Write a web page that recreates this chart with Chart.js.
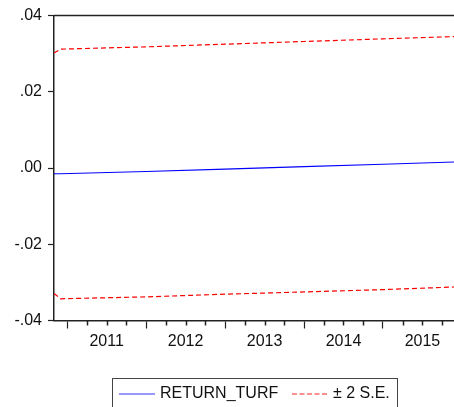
<!DOCTYPE html>
<html>
<head>
<meta charset="utf-8">
<script src="https://cdn.jsdelivr.net/npm/chart.js@4"></script>
<style>
  body { margin: 0; background: #fff; }
  #wrap { position: relative; width: 454px; height: 407px; overflow: hidden; }
  #legend { position: absolute; left: 112px; top: 378px; width: 284px; height: 40px;
    border: 1px solid #444; font: 16px "Liberation Sans", Arial, sans-serif; color: #111; }
  #legend span { position: absolute; top: 5px; }
  #legend svg { position: absolute; top: 14px; }
</style>
</head>
<body>
<div id="wrap">
  <canvas id="myChart1" width="454" height="407"></canvas>
  <div id="legend">
    <svg style="left:6px" width="36" height="2"><line x1="0" y1="1" x2="36" y2="1" stroke="#3333ff" stroke-width="1.2"/></svg>
    <span style="left:47px">RETURN_TURF</span>
    <svg style="left:179px" width="37" height="2"><line x1="0" y1="1" x2="37" y2="1" stroke="#ff2222" stroke-width="1.2" stroke-dasharray="5,2.5"/></svg>
    <span style="left:220px">± 2 S.E.</span>
  </div>
</div>
<script>
// monthly dates as decimal years (Nov 2010 ... Dec 2015)
var dates = [2010.833, 2010.917, 2012.0, 2013.0, 2014.0, 2015.0, 2015.917];
var returnTurf = [-0.0015, -0.0015, -0.0009, -0.0003, 0.0004, 0.0010, 0.0016];
var upperSE = [0.0302, 0.0312, 0.0318, 0.0325, 0.0332, 0.0339, 0.0345];
var lowerSE = [-0.0329, -0.0343, -0.0338, -0.0331, -0.0325, -0.0319, -0.0312];
var yearTicks = [2011, 2012, 2013, 2014, 2015];
var quarterTicks = [2011.25, 2011.5, 2011.75, 2012.25, 2012.5, 2012.75, 2013.25, 2013.5, 2013.75,
  2014.25, 2014.5, 2014.75, 2015.25, 2015.5, 2015.75];
var yTicks = [-0.04, -0.02, 0, 0.02, 0.04];

function pts(vals) {
  return dates.map(function (d, i) { return { x: d, y: vals[i] }; });
}

var frame = {
  id: 'frame',
  afterDraw: function (chart) {
    var ctx = chart.ctx, a = chart.chartArea, xs = chart.scales.x;
    ctx.save();
    ctx.strokeStyle = '#222';
    ctx.lineWidth = 1.5;
    ctx.beginPath();
    ctx.moveTo(a.left, a.top);
    ctx.lineTo(a.right + 2, a.top);
    quarterTicks.forEach(function (q) {
      var x = Math.round(xs.getPixelForValue(q)) + 0.5;
      ctx.moveTo(x, a.bottom);
      ctx.lineTo(x, a.bottom + 5);
    });
    ctx.stroke();
    ctx.restore();
  }
};

var font = { family: '"Liberation Sans", Arial, sans-serif', size: 16 };

new Chart(document.getElementById('myChart1').getContext('2d'), {
  type: 'line',
  data: {
    datasets: [{
      label: 'RETURN_TURF',
      data: pts(returnTurf),
      borderColor: '#0000ff',
      borderWidth: 1.2,
      pointRadius: 0,
      tension: 0
    }, {
      label: '± 2 S.E.',
      data: pts(upperSE),
      borderColor: '#ff0000',
      borderWidth: 1.2,
      borderDash: [5, 3],
      pointRadius: 0,
      tension: 0
    }, {
      label: 'lower',
      data: pts(lowerSE),
      borderColor: '#ff0000',
      borderWidth: 1.2,
      borderDash: [5, 3],
      pointRadius: 0,
      tension: 0
    }]
  },
  options: {
    responsive: false,
    animation: false,
    devicePixelRatio: 1,
    layout: { padding: { top: 15, right: 0, left: 0, bottom: 0 }, autoPadding: false },
    plugins: { legend: { display: false }, tooltip: { enabled: false } },
    scales: {
      x: {
        type: 'linear',
        min: 2010.833,
        max: 2015.9,
        afterBuildTicks: function (scale) {
          scale.ticks = yearTicks.map(function (v) { return { value: v }; })
            .concat(yearTicks.map(function (v) { return { value: v + 0.5 }; }));
        },
        afterFit: function (scale) { scale.height = 86.5; },
        border: { color: '#222', width: 1.5 },
        grid: {
          drawOnChartArea: false,
          tickLength: 8,
          tickWidth: 1.2,
          tickColor: function (c) { return c.tick && c.tick.value % 1 === 0 ? '#222' : 'rgba(0,0,0,0)'; }
        },
        ticks: {
          autoSkip: false,
          maxRotation: 0,
          padding: 3,
          color: '#111',
          font: font,
          callback: function (v) { return v % 1 === 0.5 ? String(Math.floor(v)) : ''; }
        }
      },
      y: {
        min: -0.04,
        max: 0.04,
        afterBuildTicks: function (scale) {
          scale.ticks = yTicks.map(function (v) { return { value: v }; });
        },
        afterFit: function (scale) { scale.width = 54; },
        border: { color: '#222', width: 1.5 },
        grid: { drawOnChartArea: false, tickLength: 6, tickWidth: 1.2, tickColor: '#222' },
        ticks: {
          padding: 6,
          color: '#111',
          font: font,
          callback: function (v) { return v.toFixed(2).replace('0.', '.'); }
        }
      }
    }
  },
  plugins: [frame]
});
</script>
</body>
</html>
